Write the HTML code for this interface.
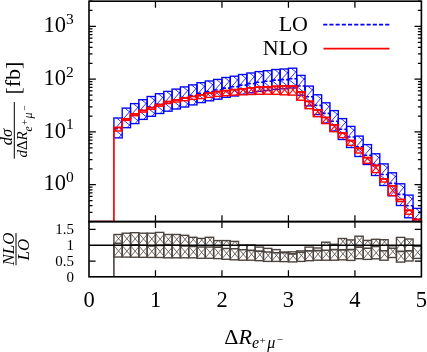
<!DOCTYPE html>
<html><head><meta charset="utf-8"><title>plot</title><style>html,body{margin:0;padding:0;background:#fff}svg{display:block}</style></head><body>
<svg width="427" height="352" viewBox="0 0 427 352" style="will-change:transform">
<rect width="100%" height="100%" fill="#fff"/>
<defs><clipPath id="cu"><rect x="89.0" y="1.2" width="332.4" height="220.4"/></clipPath></defs>
<g clip-path="url(#cu)">
<path d="M116.59 118.00L122.21 122.50M113.90 130.11L122.21 120.55M113.90 129.05L122.21 135.70M118.60 137.90L122.21 133.75" stroke="#0000ff" stroke-width="0.80" fill="none"/>
<rect x="113.90" y="118.00" width="8.31" height="19.90" fill="none" stroke="#0000ff" stroke-width="1.35"/>
<path d="M124.90 108.10L130.52 112.60M122.21 120.21L130.52 110.65M122.21 119.15L130.52 125.80M127.17 127.70L130.52 123.85" stroke="#0000ff" stroke-width="0.80" fill="none"/>
<rect x="122.21" y="108.10" width="8.31" height="19.60" fill="none" stroke="#0000ff" stroke-width="1.35"/>
<path d="M133.21 103.60L138.83 108.10M130.52 115.71L138.83 106.15M130.52 114.65L138.83 121.30M135.13 123.60L138.83 119.35" stroke="#0000ff" stroke-width="0.80" fill="none"/>
<rect x="130.52" y="103.60" width="8.31" height="20.00" fill="none" stroke="#0000ff" stroke-width="1.35"/>
<path d="M141.52 99.70L147.14 104.20M138.83 111.81L147.14 102.25M138.83 110.75L147.14 117.40M143.71 119.40L147.14 115.45" stroke="#0000ff" stroke-width="0.80" fill="none"/>
<rect x="138.83" y="99.70" width="8.31" height="19.70" fill="none" stroke="#0000ff" stroke-width="1.35"/>
<path d="M149.83 96.50L155.45 101.00M147.14 108.61L155.45 99.05M147.14 107.55L155.45 114.20M151.93 116.30L155.45 112.25" stroke="#0000ff" stroke-width="0.80" fill="none"/>
<rect x="147.14" y="96.50" width="8.31" height="19.80" fill="none" stroke="#0000ff" stroke-width="1.35"/>
<path d="M158.13 93.70L163.76 98.20M155.45 105.81L163.76 96.25M155.45 104.75L163.76 111.40M160.24 113.50L163.76 109.45" stroke="#0000ff" stroke-width="0.80" fill="none"/>
<rect x="155.45" y="93.70" width="8.31" height="19.80" fill="none" stroke="#0000ff" stroke-width="1.35"/>
<path d="M166.44 91.40L172.07 95.90M163.76 103.51L172.07 93.95M163.76 102.45L172.07 109.10M168.55 111.20L172.07 107.15" stroke="#0000ff" stroke-width="0.80" fill="none"/>
<rect x="163.76" y="91.40" width="8.31" height="19.80" fill="none" stroke="#0000ff" stroke-width="1.35"/>
<path d="M174.75 89.10L180.38 93.60M172.07 101.21L180.38 91.65M172.07 100.15L180.38 106.80M176.77 109.00L180.38 104.85" stroke="#0000ff" stroke-width="0.80" fill="none"/>
<rect x="172.07" y="89.10" width="8.31" height="19.90" fill="none" stroke="#0000ff" stroke-width="1.35"/>
<path d="M183.06 86.90L188.69 91.40M180.38 99.01L188.69 89.45M180.38 97.95L188.69 104.60M184.91 107.00L188.69 102.65" stroke="#0000ff" stroke-width="0.80" fill="none"/>
<rect x="180.38" y="86.90" width="8.31" height="20.10" fill="none" stroke="#0000ff" stroke-width="1.35"/>
<path d="M191.38 84.90L197.00 89.40M188.69 97.01L197.00 87.45M188.69 95.95L197.00 102.60M193.30 104.90L197.00 100.65" stroke="#0000ff" stroke-width="0.80" fill="none"/>
<rect x="188.69" y="84.90" width="8.31" height="20.00" fill="none" stroke="#0000ff" stroke-width="1.35"/>
<path d="M199.69 82.70L205.31 87.20M197.00 94.81L205.31 85.25M197.00 93.75L205.31 100.40M201.70 102.60L205.31 98.45" stroke="#0000ff" stroke-width="0.80" fill="none"/>
<rect x="197.00" y="82.70" width="8.31" height="19.90" fill="none" stroke="#0000ff" stroke-width="1.35"/>
<path d="M208.00 81.00L213.62 85.50M205.31 93.11L213.62 83.55M205.31 92.05L213.62 98.70M210.10 100.80L213.62 96.75" stroke="#0000ff" stroke-width="0.80" fill="none"/>
<rect x="205.31" y="81.00" width="8.31" height="19.80" fill="none" stroke="#0000ff" stroke-width="1.35"/>
<path d="M216.31 79.40L221.93 83.90M213.62 91.51L221.93 81.95M213.62 90.45L221.93 97.10M218.41 99.20L221.93 95.15" stroke="#0000ff" stroke-width="0.80" fill="none"/>
<rect x="213.62" y="79.40" width="8.31" height="19.80" fill="none" stroke="#0000ff" stroke-width="1.35"/>
<path d="M224.62 77.50L230.24 82.00M221.93 89.61L230.24 80.05M221.93 88.55L230.24 95.20M226.72 97.30L230.24 93.25" stroke="#0000ff" stroke-width="0.80" fill="none"/>
<rect x="221.93" y="77.50" width="8.31" height="19.80" fill="none" stroke="#0000ff" stroke-width="1.35"/>
<path d="M232.93 76.20L238.55 80.70M230.24 88.31L238.55 78.75M230.24 87.25L238.55 93.90M235.03 96.00L238.55 91.95" stroke="#0000ff" stroke-width="0.80" fill="none"/>
<rect x="230.24" y="76.20" width="8.31" height="19.80" fill="none" stroke="#0000ff" stroke-width="1.35"/>
<path d="M241.24 74.50L246.86 79.00M238.55 86.61L246.86 77.05M238.55 85.55L246.86 92.20M243.34 94.30L246.86 90.25" stroke="#0000ff" stroke-width="0.80" fill="none"/>
<rect x="238.55" y="74.50" width="8.31" height="19.80" fill="none" stroke="#0000ff" stroke-width="1.35"/>
<path d="M249.55 73.00L255.17 77.50M246.86 85.11L255.17 75.55M246.86 84.05L255.17 90.70M251.65 92.80L255.17 88.75" stroke="#0000ff" stroke-width="0.80" fill="none"/>
<rect x="246.86" y="73.00" width="8.31" height="19.80" fill="none" stroke="#0000ff" stroke-width="1.35"/>
<path d="M257.86 71.60L263.48 76.10M255.17 83.71L263.48 74.15M255.17 82.65L263.48 89.30M259.96 91.40L263.48 87.35" stroke="#0000ff" stroke-width="0.80" fill="none"/>
<rect x="255.17" y="71.60" width="8.31" height="19.80" fill="none" stroke="#0000ff" stroke-width="1.35"/>
<path d="M266.17 70.70L271.79 75.20M263.48 82.81L271.79 73.25M263.48 81.75L271.79 88.40M268.27 90.50L271.79 86.45" stroke="#0000ff" stroke-width="0.80" fill="none"/>
<rect x="263.48" y="70.70" width="8.31" height="19.80" fill="none" stroke="#0000ff" stroke-width="1.35"/>
<path d="M274.48 69.50L280.10 74.00M271.79 81.61L280.10 72.05M271.79 80.55L280.10 87.20M276.58 89.30L280.10 85.25" stroke="#0000ff" stroke-width="0.80" fill="none"/>
<rect x="271.79" y="69.50" width="8.31" height="19.80" fill="none" stroke="#0000ff" stroke-width="1.35"/>
<path d="M282.79 69.00L288.41 73.50M280.10 81.11L288.41 71.55M280.10 80.05L288.41 86.70M284.89 88.80L288.41 84.75" stroke="#0000ff" stroke-width="0.80" fill="none"/>
<rect x="280.10" y="69.00" width="8.31" height="19.80" fill="none" stroke="#0000ff" stroke-width="1.35"/>
<path d="M291.10 68.20L296.72 72.70M288.41 80.31L296.72 70.75M288.41 79.25L296.72 85.90M293.20 88.00L296.72 83.95" stroke="#0000ff" stroke-width="0.80" fill="none"/>
<rect x="288.41" y="68.20" width="8.31" height="19.80" fill="none" stroke="#0000ff" stroke-width="1.35"/>
<path d="M299.41 75.40L305.03 79.90M296.72 87.51L305.03 77.95M296.72 86.45L305.03 93.10M301.51 95.20L305.03 91.15" stroke="#0000ff" stroke-width="0.80" fill="none"/>
<rect x="296.72" y="75.40" width="8.31" height="19.80" fill="none" stroke="#0000ff" stroke-width="1.35"/>
<path d="M307.72 86.10L313.34 90.60M305.03 98.21L313.34 88.65M305.03 97.15L313.34 103.80M309.82 105.90L313.34 101.85" stroke="#0000ff" stroke-width="0.80" fill="none"/>
<rect x="305.03" y="86.10" width="8.31" height="19.80" fill="none" stroke="#0000ff" stroke-width="1.35"/>
<path d="M316.02 94.80L321.65 99.30M313.34 106.91L321.65 97.35M313.34 105.85L321.65 112.50M318.13 114.60L321.65 110.55" stroke="#0000ff" stroke-width="0.80" fill="none"/>
<rect x="313.34" y="94.80" width="8.31" height="19.80" fill="none" stroke="#0000ff" stroke-width="1.35"/>
<path d="M324.34 102.80L329.96 107.30M321.65 114.91L329.96 105.35M321.65 113.85L329.96 120.50M326.09 123.00L329.96 118.55" stroke="#0000ff" stroke-width="0.80" fill="none"/>
<rect x="321.65" y="102.80" width="8.31" height="20.20" fill="none" stroke="#0000ff" stroke-width="1.35"/>
<path d="M332.64 110.60L338.27 115.10M329.96 122.71L338.27 113.15M329.96 121.65L338.27 128.30M334.23 131.00L338.27 126.35" stroke="#0000ff" stroke-width="0.80" fill="none"/>
<rect x="329.96" y="110.60" width="8.31" height="20.40" fill="none" stroke="#0000ff" stroke-width="1.35"/>
<path d="M340.96 118.60L346.58 123.10M338.27 130.71L346.58 121.15M338.27 129.65L346.58 136.30M342.10 139.50L346.58 134.35" stroke="#0000ff" stroke-width="0.80" fill="none"/>
<rect x="338.27" y="118.60" width="8.31" height="20.90" fill="none" stroke="#0000ff" stroke-width="1.35"/>
<path d="M349.26 126.40L354.89 130.90M346.58 138.51L354.89 128.95M346.58 137.45L354.89 144.10M350.24 147.50L354.89 142.15" stroke="#0000ff" stroke-width="0.80" fill="none"/>
<rect x="346.58" y="126.40" width="8.31" height="21.10" fill="none" stroke="#0000ff" stroke-width="1.35"/>
<path d="M357.58 136.10L363.20 140.60M354.89 148.21L363.20 138.65M354.89 147.15L363.20 153.80M359.16 156.50L363.20 151.85" stroke="#0000ff" stroke-width="0.80" fill="none"/>
<rect x="354.89" y="136.10" width="8.31" height="20.40" fill="none" stroke="#0000ff" stroke-width="1.35"/>
<path d="M365.88 144.60L371.51 149.10M363.20 156.71L371.51 147.15M363.20 155.65L371.51 162.30M367.90 164.50L371.51 160.35" stroke="#0000ff" stroke-width="0.80" fill="none"/>
<rect x="363.20" y="144.60" width="8.31" height="19.90" fill="none" stroke="#0000ff" stroke-width="1.35"/>
<path d="M374.20 153.80L379.82 158.30M371.51 165.91L379.82 156.35M371.51 164.85L379.82 171.50M374.65 175.50L379.82 169.55" stroke="#0000ff" stroke-width="0.80" fill="none"/>
<rect x="371.51" y="153.80" width="8.31" height="21.70" fill="none" stroke="#0000ff" stroke-width="1.35"/>
<path d="M382.50 163.90L388.13 168.40M379.82 176.01L388.13 166.45M379.82 174.95L388.13 181.60M383.04 185.50L388.13 179.65" stroke="#0000ff" stroke-width="0.80" fill="none"/>
<rect x="379.82" y="163.90" width="8.31" height="21.60" fill="none" stroke="#0000ff" stroke-width="1.35"/>
<path d="M390.82 172.80L396.44 177.30M388.13 184.91L396.44 175.35M388.13 183.85L396.44 190.50M390.22 195.70L396.44 188.55" stroke="#0000ff" stroke-width="0.80" fill="none"/>
<rect x="388.13" y="172.80" width="8.31" height="22.90" fill="none" stroke="#0000ff" stroke-width="1.35"/>
<path d="M399.12 183.80L404.75 188.30M396.44 195.91L404.75 186.35M396.44 194.85L404.75 201.50M399.58 205.50L404.75 199.55" stroke="#0000ff" stroke-width="0.80" fill="none"/>
<rect x="396.44" y="183.80" width="8.31" height="21.70" fill="none" stroke="#0000ff" stroke-width="1.35"/>
<path d="M407.44 195.10L413.06 199.60M404.75 207.21L413.06 197.65M404.75 206.15L413.06 212.80M407.02 217.80L413.06 210.85" stroke="#0000ff" stroke-width="0.80" fill="none"/>
<rect x="404.75" y="195.10" width="8.31" height="22.70" fill="none" stroke="#0000ff" stroke-width="1.35"/>
<path d="M415.75 208.40L421.37 212.90M413.06 220.51L421.37 210.95M413.06 219.45L421.37 226.10M416.72 229.50L421.37 224.15" stroke="#0000ff" stroke-width="0.80" fill="none"/>
<rect x="413.06" y="208.40" width="8.31" height="21.10" fill="none" stroke="#0000ff" stroke-width="1.35"/>
<path d="M113.90 128.60L122.21 128.60M122.21 128.60L122.21 118.70M122.21 118.70L130.52 118.70M130.52 118.70L130.52 114.20M130.52 114.20L138.83 114.20M138.83 114.20L138.83 110.30M138.83 110.30L147.14 110.30M147.14 110.30L147.14 107.10M147.14 107.10L155.45 107.10M155.45 107.10L155.45 104.30M155.45 104.30L163.76 104.30M163.76 104.30L163.76 102.00M163.76 102.00L172.07 102.00M172.07 102.00L172.07 99.70M172.07 99.70L180.38 99.70M180.38 99.70L180.38 97.50M180.38 97.50L188.69 97.50M188.69 97.50L188.69 95.50M188.69 95.50L197.00 95.50M197.00 95.50L197.00 93.30M197.00 93.30L205.31 93.30M205.31 93.30L205.31 91.60M205.31 91.60L213.62 91.60M213.62 91.60L213.62 90.00M213.62 90.00L221.93 90.00M221.93 90.00L221.93 88.10M221.93 88.10L230.24 88.10M230.24 88.10L230.24 86.80M230.24 86.80L238.55 86.80M238.55 86.80L238.55 85.10M238.55 85.10L246.86 85.10M246.86 85.10L246.86 83.60M246.86 83.60L255.17 83.60M255.17 83.60L255.17 82.20M255.17 82.20L263.48 82.20M263.48 82.20L263.48 81.30M263.48 81.30L271.79 81.30M271.79 81.30L271.79 80.10M271.79 80.10L280.10 80.10M280.10 80.10L280.10 79.60M280.10 79.60L288.41 79.60M288.41 79.60L288.41 78.80M288.41 78.80L296.72 78.80M296.72 78.80L296.72 86.00M296.72 86.00L305.03 86.00M305.03 86.00L305.03 96.70M305.03 96.70L313.34 96.70M313.34 96.70L313.34 105.40M313.34 105.40L321.65 105.40M321.65 105.40L321.65 113.40M321.65 113.40L329.96 113.40M329.96 113.40L329.96 121.20M329.96 121.20L338.27 121.20M338.27 121.20L338.27 129.20M338.27 129.20L346.58 129.20M346.58 129.20L346.58 137.00M346.58 137.00L354.89 137.00M354.89 137.00L354.89 146.70M354.89 146.70L363.20 146.70M363.20 146.70L363.20 155.20M363.20 155.20L371.51 155.20M371.51 155.20L371.51 164.40M371.51 164.40L379.82 164.40M379.82 164.40L379.82 174.50M379.82 174.50L388.13 174.50M388.13 174.50L388.13 183.40M388.13 183.40L396.44 183.40M396.44 183.40L396.44 194.40M396.44 194.40L404.75 194.40M404.75 194.40L404.75 205.70M404.75 205.70L413.06 205.70M413.06 205.70L413.06 219.00M413.06 219.00L421.37 219.00" fill="none" stroke="#0000ff" stroke-width="1.6" stroke-dasharray="4 2"/>
<path d="M119.69 127.40L122.21 130.43M114.02 131.00L117.02 127.40" stroke="#ff0000" stroke-width="1.05" fill="none"/>
<rect x="113.90" y="127.40" width="8.31" height="3.60" fill="none" stroke="#ff0000" stroke-width="1.4"/>
<path d="M129.66 118.80L130.52 119.83M122.33 120.40L123.67 118.80" stroke="#ff0000" stroke-width="1.05" fill="none"/>
<rect x="122.21" y="118.80" width="8.31" height="1.60" fill="none" stroke="#ff0000" stroke-width="1.4"/>
<path d="M137.81 113.90L138.83 115.13M130.64 115.70L132.14 113.90" stroke="#ff0000" stroke-width="1.05" fill="none"/>
<rect x="130.52" y="113.90" width="8.31" height="1.80" fill="none" stroke="#ff0000" stroke-width="1.4"/>
<path d="M146.20 110.40L147.14 111.53M138.95 112.10L140.37 110.40" stroke="#ff0000" stroke-width="1.05" fill="none"/>
<rect x="138.83" y="110.40" width="8.31" height="1.70" fill="none" stroke="#ff0000" stroke-width="1.4"/>
<path d="M154.43 107.60L155.45 108.83M147.26 109.40L148.76 107.60" stroke="#ff0000" stroke-width="1.05" fill="none"/>
<rect x="147.14" y="107.60" width="8.31" height="1.80" fill="none" stroke="#ff0000" stroke-width="1.4"/>
<path d="M162.82 104.50L163.76 105.63M155.57 106.20L156.99 104.50" stroke="#ff0000" stroke-width="1.05" fill="none"/>
<rect x="155.45" y="104.50" width="8.31" height="1.70" fill="none" stroke="#ff0000" stroke-width="1.4"/>
<path d="M170.80 101.50L172.07 103.03M163.88 103.60L165.63 101.50" stroke="#ff0000" stroke-width="1.05" fill="none"/>
<rect x="163.76" y="101.50" width="8.31" height="2.10" fill="none" stroke="#ff0000" stroke-width="1.4"/>
<path d="M179.03 99.80L180.38 101.43M172.19 102.00L174.03 99.80" stroke="#ff0000" stroke-width="1.05" fill="none"/>
<rect x="172.07" y="99.80" width="8.31" height="2.20" fill="none" stroke="#ff0000" stroke-width="1.4"/>
<path d="M187.00 98.10L188.69 100.13M180.50 100.70L182.67 98.10" stroke="#ff0000" stroke-width="1.05" fill="none"/>
<rect x="180.38" y="98.10" width="8.31" height="2.60" fill="none" stroke="#ff0000" stroke-width="1.4"/>
<path d="M194.98 96.40L197.00 98.83M188.81 99.40L191.31 96.40" stroke="#ff0000" stroke-width="1.05" fill="none"/>
<rect x="188.69" y="96.40" width="8.31" height="3.00" fill="none" stroke="#ff0000" stroke-width="1.4"/>
<path d="M202.54 94.70L205.31 98.03M197.12 98.60L200.37 94.70" stroke="#ff0000" stroke-width="1.05" fill="none"/>
<rect x="197.00" y="94.70" width="8.31" height="3.90" fill="none" stroke="#ff0000" stroke-width="1.4"/>
<path d="M210.43 93.00L213.62 96.83M205.43 97.40L209.10 93.00" stroke="#ff0000" stroke-width="1.05" fill="none"/>
<rect x="205.31" y="93.00" width="8.31" height="4.40" fill="none" stroke="#ff0000" stroke-width="1.4"/>
<path d="M218.33 91.50L221.93 95.83M213.74 96.40L217.83 91.50" stroke="#ff0000" stroke-width="1.05" fill="none"/>
<rect x="213.62" y="91.50" width="8.31" height="4.90" fill="none" stroke="#ff0000" stroke-width="1.4"/>
<path d="M226.47 90.60L230.24 95.13M222.05 95.70L226.30 90.60" stroke="#ff0000" stroke-width="1.05" fill="none"/>
<rect x="221.93" y="90.60" width="8.31" height="5.10" fill="none" stroke="#ff0000" stroke-width="1.4"/>
<path d="M234.45 89.60L238.55 94.53M230.36 95.10L234.95 89.60" stroke="#ff0000" stroke-width="1.05" fill="none"/>
<rect x="230.24" y="89.60" width="8.31" height="5.50" fill="none" stroke="#ff0000" stroke-width="1.4"/>
<path d="M242.26 88.70L246.86 94.23M238.67 94.80L243.76 88.70" stroke="#ff0000" stroke-width="1.05" fill="none"/>
<rect x="238.55" y="88.70" width="8.31" height="6.10" fill="none" stroke="#ff0000" stroke-width="1.4"/>
<path d="M249.98 87.70L255.17 93.93M246.98 94.50L252.65 87.70" stroke="#ff0000" stroke-width="1.05" fill="none"/>
<rect x="246.86" y="87.70" width="8.31" height="6.80" fill="none" stroke="#ff0000" stroke-width="1.4"/>
<path d="M257.88 87.00L263.48 93.73M255.29 94.30L261.38 87.00" stroke="#ff0000" stroke-width="1.05" fill="none"/>
<rect x="255.17" y="87.00" width="8.31" height="7.30" fill="none" stroke="#ff0000" stroke-width="1.4"/>
<path d="M266.10 86.80L271.79 93.63M263.60 94.20L269.77 86.80" stroke="#ff0000" stroke-width="1.05" fill="none"/>
<rect x="263.48" y="86.80" width="8.31" height="7.40" fill="none" stroke="#ff0000" stroke-width="1.4"/>
<path d="M273.91 86.30L280.10 93.73M271.91 94.30L278.58 86.30" stroke="#ff0000" stroke-width="1.05" fill="none"/>
<rect x="271.79" y="86.30" width="8.31" height="8.00" fill="none" stroke="#ff0000" stroke-width="1.4"/>
<path d="M281.47 85.90L288.41 94.23M280.22 94.80L287.64 85.90" stroke="#ff0000" stroke-width="1.05" fill="none"/>
<rect x="280.10" y="85.90" width="8.31" height="8.90" fill="none" stroke="#ff0000" stroke-width="1.4"/>
<path d="M289.70 86.10L296.72 94.53M288.53 95.10L296.03 86.10" stroke="#ff0000" stroke-width="1.05" fill="none"/>
<rect x="288.41" y="86.10" width="8.31" height="9.00" fill="none" stroke="#ff0000" stroke-width="1.4"/>
<path d="M298.51 91.80L305.03 99.63M296.84 100.20L303.84 91.80" stroke="#ff0000" stroke-width="1.05" fill="none"/>
<rect x="296.72" y="91.80" width="8.31" height="8.40" fill="none" stroke="#ff0000" stroke-width="1.4"/>
<path d="M307.57 101.20L313.34 108.13M305.15 108.70L311.40 101.20" stroke="#ff0000" stroke-width="1.05" fill="none"/>
<rect x="305.03" y="101.20" width="8.31" height="7.50" fill="none" stroke="#ff0000" stroke-width="1.4"/>
<path d="M316.30 109.70L321.65 116.13M313.46 116.70L319.30 109.70" stroke="#ff0000" stroke-width="1.05" fill="none"/>
<rect x="313.34" y="109.70" width="8.31" height="7.00" fill="none" stroke="#ff0000" stroke-width="1.4"/>
<path d="M325.27 117.40L329.96 123.03M321.77 123.60L326.94 117.40" stroke="#ff0000" stroke-width="1.05" fill="none"/>
<rect x="321.65" y="117.40" width="8.31" height="6.20" fill="none" stroke="#ff0000" stroke-width="1.4"/>
<path d="M332.92 124.70L338.27 131.13M330.08 131.70L335.92 124.70" stroke="#ff0000" stroke-width="1.05" fill="none"/>
<rect x="329.96" y="124.70" width="8.31" height="7.00" fill="none" stroke="#ff0000" stroke-width="1.4"/>
<path d="M343.14 132.90L346.58 137.03M338.39 137.60L342.31 132.90" stroke="#ff0000" stroke-width="1.05" fill="none"/>
<rect x="338.27" y="132.90" width="8.31" height="4.70" fill="none" stroke="#ff0000" stroke-width="1.4"/>
<path d="M351.37 140.50L354.89 144.73M346.70 145.30L350.70 140.50" stroke="#ff0000" stroke-width="1.05" fill="none"/>
<rect x="346.58" y="140.50" width="8.31" height="4.80" fill="none" stroke="#ff0000" stroke-width="1.4"/>
<path d="M359.68 148.20L363.20 152.43M355.01 153.00L359.01 148.20" stroke="#ff0000" stroke-width="1.05" fill="none"/>
<rect x="354.89" y="148.20" width="8.31" height="4.80" fill="none" stroke="#ff0000" stroke-width="1.4"/>
<path d="M367.24 157.60L371.51 162.73M363.32 163.30L368.07 157.60" stroke="#ff0000" stroke-width="1.05" fill="none"/>
<rect x="363.20" y="157.60" width="8.31" height="5.70" fill="none" stroke="#ff0000" stroke-width="1.4"/>
<path d="M374.22 165.30L379.82 172.03M371.63 172.60L377.72 165.30" stroke="#ff0000" stroke-width="1.05" fill="none"/>
<rect x="371.51" y="165.30" width="8.31" height="7.30" fill="none" stroke="#ff0000" stroke-width="1.4"/>
<path d="M386.03 178.90L388.13 181.43M379.94 182.00L382.53 178.90" stroke="#ff0000" stroke-width="1.05" fill="none"/>
<rect x="379.82" y="178.90" width="8.31" height="3.10" fill="none" stroke="#ff0000" stroke-width="1.4"/>
<path d="M388.67 185.70L396.44 195.03M388.25 195.60L396.44 185.77" stroke="#ff0000" stroke-width="1.05" fill="none"/>
<rect x="388.13" y="185.70" width="8.31" height="9.90" fill="none" stroke="#ff0000" stroke-width="1.4"/>
<path d="M403.40 199.40L404.75 201.03M396.56 201.60L398.40 199.40" stroke="#ff0000" stroke-width="1.05" fill="none"/>
<rect x="396.44" y="199.40" width="8.31" height="2.20" fill="none" stroke="#ff0000" stroke-width="1.4"/>
<path d="M410.21 210.20L413.06 213.63M404.87 214.20L408.21 210.20" stroke="#ff0000" stroke-width="1.05" fill="none"/>
<rect x="404.75" y="210.20" width="8.31" height="4.00" fill="none" stroke="#ff0000" stroke-width="1.4"/>
<path d="M418.02 219.40L421.37 223.43M413.18 224.00L417.02 219.40" stroke="#ff0000" stroke-width="1.05" fill="none"/>
<rect x="413.06" y="219.40" width="8.31" height="4.60" fill="none" stroke="#ff0000" stroke-width="1.4"/>
<path d="M89.00 221.60L113.90 221.60L113.90 127.50L122.21 127.50L122.21 118.90L130.52 118.90L130.52 114.00L138.83 114.00L138.83 110.50L147.14 110.50L147.14 107.70L155.45 107.70L155.45 104.60L163.76 104.60L163.76 101.60L172.07 101.60L172.07 99.90L180.38 99.90L180.38 98.20L188.69 98.20L188.69 96.50L197.00 96.50L197.00 94.80L205.31 94.80L205.31 93.10L213.62 93.10L213.62 91.60L221.93 91.60L221.93 90.70L230.24 90.70L230.24 89.70L238.55 89.70L238.55 88.80L246.86 88.80L246.86 87.80L255.17 87.80L255.17 87.10L263.48 87.10L263.48 86.90L271.79 86.90L271.79 86.40L280.10 86.40L280.10 86.00L288.41 86.00L288.41 86.20L296.72 86.20L296.72 91.90L305.03 91.90L305.03 101.30L313.34 101.30L313.34 109.80L321.65 109.80L321.65 117.50L329.96 117.50L329.96 124.80L338.27 124.80L338.27 133.00L346.58 133.00L346.58 140.60L354.89 140.60L354.89 148.30L363.20 148.30L363.20 157.70L371.51 157.70L371.51 165.40L379.82 165.40L379.82 179.00L388.13 179.00L388.13 185.80L396.44 185.80L396.44 199.50L404.75 199.50L404.75 210.30L413.06 210.30L413.06 219.50L421.37 219.50" fill="none" stroke="#ff0000" stroke-width="1.7" stroke-linejoin="miter"/>
</g>
<path d="M115.14 234.50L122.21 242.99M113.90 244.19L121.97 234.50M113.90 245.41L122.21 255.39M113.90 256.59L122.21 246.61" stroke="#4d443f" stroke-width="0.80" fill="none"/>
<rect x="113.90" y="234.50" width="8.31" height="22.50" fill="none" stroke="#4d443f" stroke-width="1.4"/>
<path d="M122.28 233.20L130.52 243.09M122.21 244.29L130.52 234.31M122.21 245.51L130.52 255.49M122.21 256.69L130.52 246.71" stroke="#4d443f" stroke-width="0.80" fill="none"/>
<rect x="122.21" y="233.20" width="8.31" height="23.90" fill="none" stroke="#4d443f" stroke-width="1.4"/>
<path d="M130.52 233.21L138.83 243.19M130.52 244.39L138.83 234.41M130.52 245.61L138.83 255.59M130.52 256.79L138.83 246.81" stroke="#4d443f" stroke-width="0.80" fill="none"/>
<rect x="130.52" y="232.70" width="8.31" height="24.50" fill="none" stroke="#4d443f" stroke-width="1.4"/>
<path d="M138.83 233.31L147.14 243.29M138.83 244.49L147.14 234.51M138.83 245.71L147.14 255.69M138.83 256.89L147.14 246.91" stroke="#4d443f" stroke-width="0.80" fill="none"/>
<rect x="138.83" y="233.20" width="8.31" height="24.10" fill="none" stroke="#4d443f" stroke-width="1.4"/>
<path d="M147.14 233.41L155.45 243.39M147.14 244.59L155.45 234.61M147.14 245.81L155.45 255.79M147.14 256.99L155.45 247.01" stroke="#4d443f" stroke-width="0.80" fill="none"/>
<rect x="147.14" y="233.20" width="8.31" height="24.20" fill="none" stroke="#4d443f" stroke-width="1.4"/>
<path d="M155.45 233.51L163.76 243.49M155.45 244.69L163.76 234.71M155.45 245.91L163.76 255.89M155.45 257.09L163.76 247.11" stroke="#4d443f" stroke-width="0.80" fill="none"/>
<rect x="155.45" y="232.40" width="8.31" height="25.10" fill="none" stroke="#4d443f" stroke-width="1.4"/>
<path d="M164.33 234.50L172.07 243.79M163.76 244.99L172.07 235.01M163.76 246.21L172.07 256.19M163.76 257.39L172.07 247.41" stroke="#4d443f" stroke-width="0.80" fill="none"/>
<rect x="163.76" y="234.50" width="8.31" height="23.30" fill="none" stroke="#4d443f" stroke-width="1.4"/>
<path d="M172.64 234.50L180.38 243.79M172.07 244.99L180.38 235.01M172.07 246.21L180.38 256.19M172.07 257.39L180.38 247.41" stroke="#4d443f" stroke-width="0.80" fill="none"/>
<rect x="172.07" y="234.50" width="8.31" height="23.30" fill="none" stroke="#4d443f" stroke-width="1.4"/>
<path d="M181.62 235.30L188.69 243.79M180.38 244.99L188.45 235.30M180.38 246.21L188.69 256.19M180.38 257.39L188.69 247.41" stroke="#4d443f" stroke-width="0.80" fill="none"/>
<rect x="180.38" y="235.30" width="8.31" height="22.50" fill="none" stroke="#4d443f" stroke-width="1.4"/>
<path d="M191.59 237.30L197.00 243.79M188.69 244.99L195.09 237.30M188.69 246.21L197.00 256.19M188.69 257.39L197.00 247.41" stroke="#4d443f" stroke-width="0.80" fill="none"/>
<rect x="188.69" y="237.30" width="8.31" height="20.50" fill="none" stroke="#4d443f" stroke-width="1.4"/>
<path d="M200.41 238.40L205.31 244.29M197.00 245.49L202.91 238.40M197.00 246.71L205.31 256.69M197.00 257.89L205.31 247.91" stroke="#4d443f" stroke-width="0.80" fill="none"/>
<rect x="197.00" y="238.40" width="8.31" height="19.90" fill="none" stroke="#4d443f" stroke-width="1.4"/>
<path d="M207.80 237.30L213.62 244.29M205.31 245.49L212.13 237.30M205.31 246.71L213.62 256.69M205.31 257.89L213.62 247.91" stroke="#4d443f" stroke-width="0.80" fill="none"/>
<rect x="205.31" y="237.30" width="8.31" height="21.00" fill="none" stroke="#4d443f" stroke-width="1.4"/>
<path d="M218.61 240.60L221.93 244.59M213.62 245.79L217.94 240.60M213.62 247.01L221.93 256.99M213.62 258.19L221.93 248.21" stroke="#4d443f" stroke-width="0.80" fill="none"/>
<rect x="213.62" y="240.60" width="8.31" height="18.00" fill="none" stroke="#4d443f" stroke-width="1.4"/>
<path d="M226.34 240.60L230.24 245.29M221.93 246.49L226.84 240.60M221.93 247.71L230.24 257.69M221.93 258.89L230.24 248.91" stroke="#4d443f" stroke-width="0.80" fill="none"/>
<rect x="221.93" y="240.60" width="8.31" height="18.70" fill="none" stroke="#4d443f" stroke-width="1.4"/>
<path d="M234.90 241.40L238.55 245.79M230.24 246.99L234.90 241.40M230.24 248.21L238.55 258.19M230.24 259.39L238.55 249.41" stroke="#4d443f" stroke-width="0.80" fill="none"/>
<rect x="230.24" y="241.40" width="8.31" height="18.40" fill="none" stroke="#4d443f" stroke-width="1.4"/>
<path d="M245.87 245.00L246.86 246.19M238.55 247.39L240.54 245.00M238.55 248.61L246.86 258.59M238.55 259.79L246.86 249.81" stroke="#4d443f" stroke-width="0.80" fill="none"/>
<rect x="238.55" y="245.00" width="8.31" height="15.20" fill="none" stroke="#4d443f" stroke-width="1.4"/>
<path d="M254.18 245.00L255.17 246.19M246.86 247.39L248.85 245.00M246.86 248.61L255.17 258.59M246.86 259.79L255.17 249.81" stroke="#4d443f" stroke-width="0.80" fill="none"/>
<rect x="246.86" y="245.00" width="8.31" height="15.20" fill="none" stroke="#4d443f" stroke-width="1.4"/>
<path d="M255.17 247.89L255.83 247.10M255.17 249.11L263.48 259.09M255.17 260.29L263.48 250.31" stroke="#4d443f" stroke-width="0.80" fill="none"/>
<rect x="255.17" y="247.10" width="8.31" height="13.60" fill="none" stroke="#4d443f" stroke-width="1.4"/>
<path d="M263.48 248.59L263.63 248.40M263.48 249.81L271.79 259.79M263.48 260.99L271.79 251.01" stroke="#4d443f" stroke-width="0.80" fill="none"/>
<rect x="263.48" y="248.40" width="8.31" height="13.00" fill="none" stroke="#4d443f" stroke-width="1.4"/>
<path d="M271.79 249.81L280.10 259.79M271.79 260.99L280.10 251.01" stroke="#4d443f" stroke-width="0.80" fill="none"/>
<rect x="271.79" y="249.60" width="8.31" height="11.80" fill="none" stroke="#4d443f" stroke-width="1.4"/>
<path d="M281.75 252.00L288.41 259.99M280.10 261.19L287.75 252.00" stroke="#4d443f" stroke-width="0.80" fill="none"/>
<rect x="280.10" y="252.00" width="8.31" height="9.60" fill="none" stroke="#4d443f" stroke-width="1.4"/>
<path d="M289.65 251.80L296.72 260.29M288.41 261.49L296.48 251.80" stroke="#4d443f" stroke-width="0.80" fill="none"/>
<rect x="288.41" y="251.80" width="8.31" height="10.10" fill="none" stroke="#4d443f" stroke-width="1.4"/>
<path d="M297.62 250.90L305.03 259.79M296.72 260.99L305.03 251.01" stroke="#4d443f" stroke-width="0.80" fill="none"/>
<rect x="296.72" y="250.90" width="8.31" height="10.50" fill="none" stroke="#4d443f" stroke-width="1.4"/>
<path d="M305.03 247.89L305.69 247.10M305.03 249.11L313.34 259.09M305.03 260.29L313.34 250.31" stroke="#4d443f" stroke-width="0.80" fill="none"/>
<rect x="305.03" y="247.10" width="8.31" height="13.60" fill="none" stroke="#4d443f" stroke-width="1.4"/>
<path d="M313.34 248.61L321.65 258.59M313.34 259.79L321.65 249.81" stroke="#4d443f" stroke-width="0.80" fill="none"/>
<rect x="313.34" y="248.00" width="8.31" height="12.20" fill="none" stroke="#4d443f" stroke-width="1.4"/>
<path d="M326.64 242.20L329.96 246.19M321.65 247.39L325.97 242.20M321.65 248.61L329.96 258.59M321.65 259.79L329.96 249.81" stroke="#4d443f" stroke-width="0.80" fill="none"/>
<rect x="321.65" y="242.20" width="8.31" height="18.00" fill="none" stroke="#4d443f" stroke-width="1.4"/>
<path d="M336.70 244.30L338.27 246.19M329.96 247.39L332.53 244.30M329.96 248.61L338.27 258.59M329.96 259.79L338.27 249.81" stroke="#4d443f" stroke-width="0.80" fill="none"/>
<rect x="329.96" y="244.30" width="8.31" height="15.90" fill="none" stroke="#4d443f" stroke-width="1.4"/>
<path d="M340.51 238.50L346.58 245.79M338.27 246.99L345.34 238.50M338.27 248.21L346.58 258.19M338.27 259.39L346.58 249.41" stroke="#4d443f" stroke-width="0.80" fill="none"/>
<rect x="338.27" y="238.50" width="8.31" height="21.30" fill="none" stroke="#4d443f" stroke-width="1.4"/>
<path d="M349.49 239.90L354.89 246.39M346.58 247.59L352.98 239.90M346.58 248.81L354.89 258.79M346.58 259.99L354.89 250.01" stroke="#4d443f" stroke-width="0.80" fill="none"/>
<rect x="346.58" y="239.90" width="8.31" height="20.50" fill="none" stroke="#4d443f" stroke-width="1.4"/>
<path d="M356.13 236.20L363.20 244.69M354.89 245.89L362.96 236.20M354.89 247.11L363.20 257.09M354.89 258.29L363.20 248.31" stroke="#4d443f" stroke-width="0.80" fill="none"/>
<rect x="354.89" y="236.20" width="8.31" height="22.50" fill="none" stroke="#4d443f" stroke-width="1.4"/>
<path d="M367.36 240.40L371.51 245.39M363.20 246.59L368.35 240.40M363.20 247.81L371.51 257.79M363.20 258.99L371.51 249.01" stroke="#4d443f" stroke-width="0.80" fill="none"/>
<rect x="363.20" y="240.40" width="8.31" height="19.00" fill="none" stroke="#4d443f" stroke-width="1.4"/>
<path d="M375.25 239.30L379.82 244.79M371.51 245.99L377.08 239.30M371.51 247.21L379.82 257.19M371.51 258.39L379.82 248.41" stroke="#4d443f" stroke-width="0.80" fill="none"/>
<rect x="371.51" y="239.30" width="8.31" height="19.50" fill="none" stroke="#4d443f" stroke-width="1.4"/>
<path d="M382.73 239.70L388.13 246.19M379.82 247.39L386.23 239.70M379.82 248.61L388.13 258.59M379.82 259.79L388.13 249.81" stroke="#4d443f" stroke-width="0.80" fill="none"/>
<rect x="379.82" y="239.70" width="8.31" height="20.50" fill="none" stroke="#4d443f" stroke-width="1.4"/>
<path d="M388.13 245.91L396.44 255.89M388.13 257.09L396.44 247.11" stroke="#4d443f" stroke-width="0.80" fill="none"/>
<rect x="388.13" y="245.80" width="8.31" height="11.70" fill="none" stroke="#4d443f" stroke-width="1.4"/>
<path d="M396.44 238.11L404.75 248.09M396.44 249.29L404.75 239.31M396.44 250.51L404.75 260.49M396.44 261.69L404.75 251.71" stroke="#4d443f" stroke-width="0.80" fill="none"/>
<rect x="396.44" y="237.40" width="8.31" height="24.70" fill="none" stroke="#4d443f" stroke-width="1.4"/>
<path d="M406.41 239.00L413.06 246.99M404.75 248.19L412.41 239.00M404.75 249.41L413.06 259.39M404.75 260.59L413.06 250.61" stroke="#4d443f" stroke-width="0.80" fill="none"/>
<rect x="404.75" y="239.00" width="8.31" height="22.00" fill="none" stroke="#4d443f" stroke-width="1.4"/>
<path d="M413.06 246.81L421.37 256.79M413.06 257.99L421.37 248.01" stroke="#4d443f" stroke-width="0.80" fill="none"/>
<rect x="413.06" y="246.40" width="8.31" height="12.00" fill="none" stroke="#4d443f" stroke-width="1.4"/>
<path d="M113.90 276.80L113.90 243.42L122.21 243.42L122.21 245.28L130.52 245.28L130.52 244.72L138.83 244.72L138.83 245.28L147.14 245.28L147.14 245.83L155.45 245.83L155.45 245.42L163.76 245.42L163.76 244.44L172.07 244.44L172.07 245.28L180.38 245.28L180.38 245.96L188.69 245.96L188.69 246.37L197.00 246.37L197.00 247.03L205.31 247.03L205.31 247.03L213.62 247.03L213.62 247.16L221.93 247.16L221.93 248.44L230.24 248.44L230.24 248.81L238.55 248.81L238.55 249.78L246.86 249.78L246.86 250.36L255.17 250.36L255.17 251.17L263.48 251.17L263.48 251.95L271.79 251.95L271.79 252.70L280.10 252.70L280.10 252.81L288.41 252.81L288.41 253.84L296.72 253.84L296.72 252.27L305.03 252.27L305.03 250.83L313.34 250.83L313.34 250.60L321.65 250.60L321.65 250.25L329.96 250.25L329.96 249.66L338.27 249.66L338.27 249.90L346.58 249.90L346.58 249.66L354.89 249.66L354.89 247.16L363.20 247.16L363.20 248.31L371.51 248.31L371.51 246.37L379.82 246.37L379.82 250.71L388.13 250.71L388.13 248.19L396.44 248.19L396.44 251.39L404.75 251.39L404.75 250.83L413.06 250.83L413.06 245.69L421.37 245.69" fill="none" stroke="#4d443f" stroke-width="1.6"/>
<path d="M89.0 245.2H421.4" stroke="#000" stroke-width="1.4"/>
<rect x="89.0" y="1.2" width="332.4" height="220.4" stroke="#000" stroke-width="1.6" fill="none"/>
<rect x="89.0" y="221.6" width="332.4" height="55.2" stroke="#000" stroke-width="1.6" fill="none"/>
<path d="M89.0 221.60h3.5M421.4 221.60h-3.5M89.0 212.31h3.5M421.4 212.31h-3.5M89.0 205.71h3.5M421.4 205.71h-3.5M89.0 200.60h3.5M421.4 200.60h-3.5M89.0 196.42h3.5M421.4 196.42h-3.5M89.0 192.89h3.5M421.4 192.89h-3.5M89.0 189.83h3.5M421.4 189.83h-3.5M89.0 187.13h3.5M421.4 187.13h-3.5M89.0 184.71h6.9M421.4 184.71h-6.9M89.0 168.82h3.5M421.4 168.82h-3.5M89.0 159.53h3.5M421.4 159.53h-3.5M89.0 152.94h3.5M421.4 152.94h-3.5M89.0 147.82h3.5M421.4 147.82h-3.5M89.0 143.64h3.5M421.4 143.64h-3.5M89.0 140.11h3.5M421.4 140.11h-3.5M89.0 137.05h3.5M421.4 137.05h-3.5M89.0 134.35h3.5M421.4 134.35h-3.5M89.0 131.93h6.9M421.4 131.93h-6.9M89.0 116.05h3.5M421.4 116.05h-3.5M89.0 106.75h3.5M421.4 106.75h-3.5M89.0 100.16h3.5M421.4 100.16h-3.5M89.0 95.04h3.5M421.4 95.04h-3.5M89.0 90.87h3.5M421.4 90.87h-3.5M89.0 87.33h3.5M421.4 87.33h-3.5M89.0 84.27h3.5M421.4 84.27h-3.5M89.0 81.57h3.5M421.4 81.57h-3.5M89.0 79.16h6.9M421.4 79.16h-6.9M89.0 63.27h3.5M421.4 63.27h-3.5M89.0 53.98h3.5M421.4 53.98h-3.5M89.0 47.38h3.5M421.4 47.38h-3.5M89.0 42.27h3.5M421.4 42.27h-3.5M89.0 38.09h3.5M421.4 38.09h-3.5M89.0 34.56h3.5M421.4 34.56h-3.5M89.0 31.50h3.5M421.4 31.50h-3.5M89.0 28.80h3.5M421.4 28.80h-3.5M89.0 26.38h6.9M421.4 26.38h-6.9M89.0 10.49h3.5M421.4 10.49h-3.5M89.0 1.20h3.5M421.4 1.20h-3.5M155.48 1.2v6.6M155.48 221.6v-6.3M155.48 221.6v6.3M155.48 276.8v-6.6M221.96 1.2v6.6M221.96 221.6v-6.3M221.96 221.6v6.3M221.96 276.8v-6.6M288.44 1.2v6.6M288.44 221.6v-6.3M288.44 221.6v6.3M288.44 276.8v-6.6M354.92 1.2v6.6M354.92 221.6v-6.3M354.92 221.6v6.3M354.92 276.8v-6.6M89.0 261.15h6.6M421.4 261.15h-6.6M89.0 229.25h6.6M421.4 229.25h-6.6" stroke="#000" stroke-width="1.25" fill="none"/>
<path d="M323.2 24.7H389.3" stroke="#0000ff" stroke-width="1.7" stroke-dasharray="4.1 2.1"/>
<path d="M323.5 48.6H389.5" stroke="#ff0000" stroke-width="1.7"/>
<g font-family="Liberation Serif, serif" fill="#000">
<text x="308" y="30.6" font-size="22" text-anchor="end">LO</text>
<text x="308" y="54.8" font-size="22" text-anchor="end">NLO</text>
<text x="43.6" y="190.4" font-size="22.5">10<tspan font-size="15.5" dy="-8.3">0</tspan></text>
<text x="43.6" y="137.6" font-size="22.5">10<tspan font-size="15.5" dy="-8.3">1</tspan></text>
<text x="43.6" y="84.9" font-size="22.5">10<tspan font-size="15.5" dy="-8.3">2</tspan></text>
<text x="43.6" y="32.1" font-size="22.5">10<tspan font-size="15.5" dy="-8.3">3</tspan></text>
<text x="89.0" y="307.4" font-size="22.5" text-anchor="middle">0</text>
<text x="155.5" y="307.4" font-size="22.5" text-anchor="middle">1</text>
<text x="222.0" y="307.4" font-size="22.5" text-anchor="middle">2</text>
<text x="288.4" y="307.4" font-size="22.5" text-anchor="middle">3</text>
<text x="354.9" y="307.4" font-size="22.5" text-anchor="middle">4</text>
<text x="421.4" y="307.4" font-size="22.5" text-anchor="middle">5</text>
<text x="73.9" y="233.9" font-size="15" text-anchor="end">1.5</text>
<text x="73.9" y="249.9" font-size="15" text-anchor="end">1</text>
<text x="73.9" y="265.9" font-size="15" text-anchor="end">0.5</text>
<text x="73.9" y="281.9" font-size="15" text-anchor="end">0</text>
<text x="224.3" y="343.8" font-size="22">Δ<tspan font-style="italic">R</tspan></text>
<text x="252.0" y="348" font-size="16" font-style="italic">e</text>
<text x="259.6" y="344.2" font-size="11">+</text>
<text x="267.2" y="348" font-size="16" font-style="italic">μ</text>
<text x="276.8" y="343.4" font-size="11">−</text>
<g transform="rotate(-90)">
<text x="-94.6" y="20.4" font-size="22">[fb]</text>
<text x="-145.3" y="12.4" font-size="16.5" font-style="italic">dσ</text>
<text x="-157.6" y="26.5" font-size="15"><tspan font-style="italic">d</tspan>Δ<tspan font-style="italic">R</tspan></text>
<text x="-131.5" y="32.2" font-size="12" font-style="italic">e</text>
<text x="-124.9" y="27.6" font-size="10">+</text>
<text x="-118.6" y="32.2" font-size="12" font-style="italic">μ</text>
<text x="-110.7" y="27.9" font-size="10">−</text>
<text x="-265.6" y="13.9" font-size="17" font-style="italic">NLO</text>
<text x="-260.5" y="28.8" font-size="17" font-style="italic">LO</text>
</g>
<path d="M14.3 102V158.7" stroke="#000" stroke-width="1"/>
<path d="M16 233V265.2" stroke="#000" stroke-width="1"/>
</g>
</svg>
</body></html>
